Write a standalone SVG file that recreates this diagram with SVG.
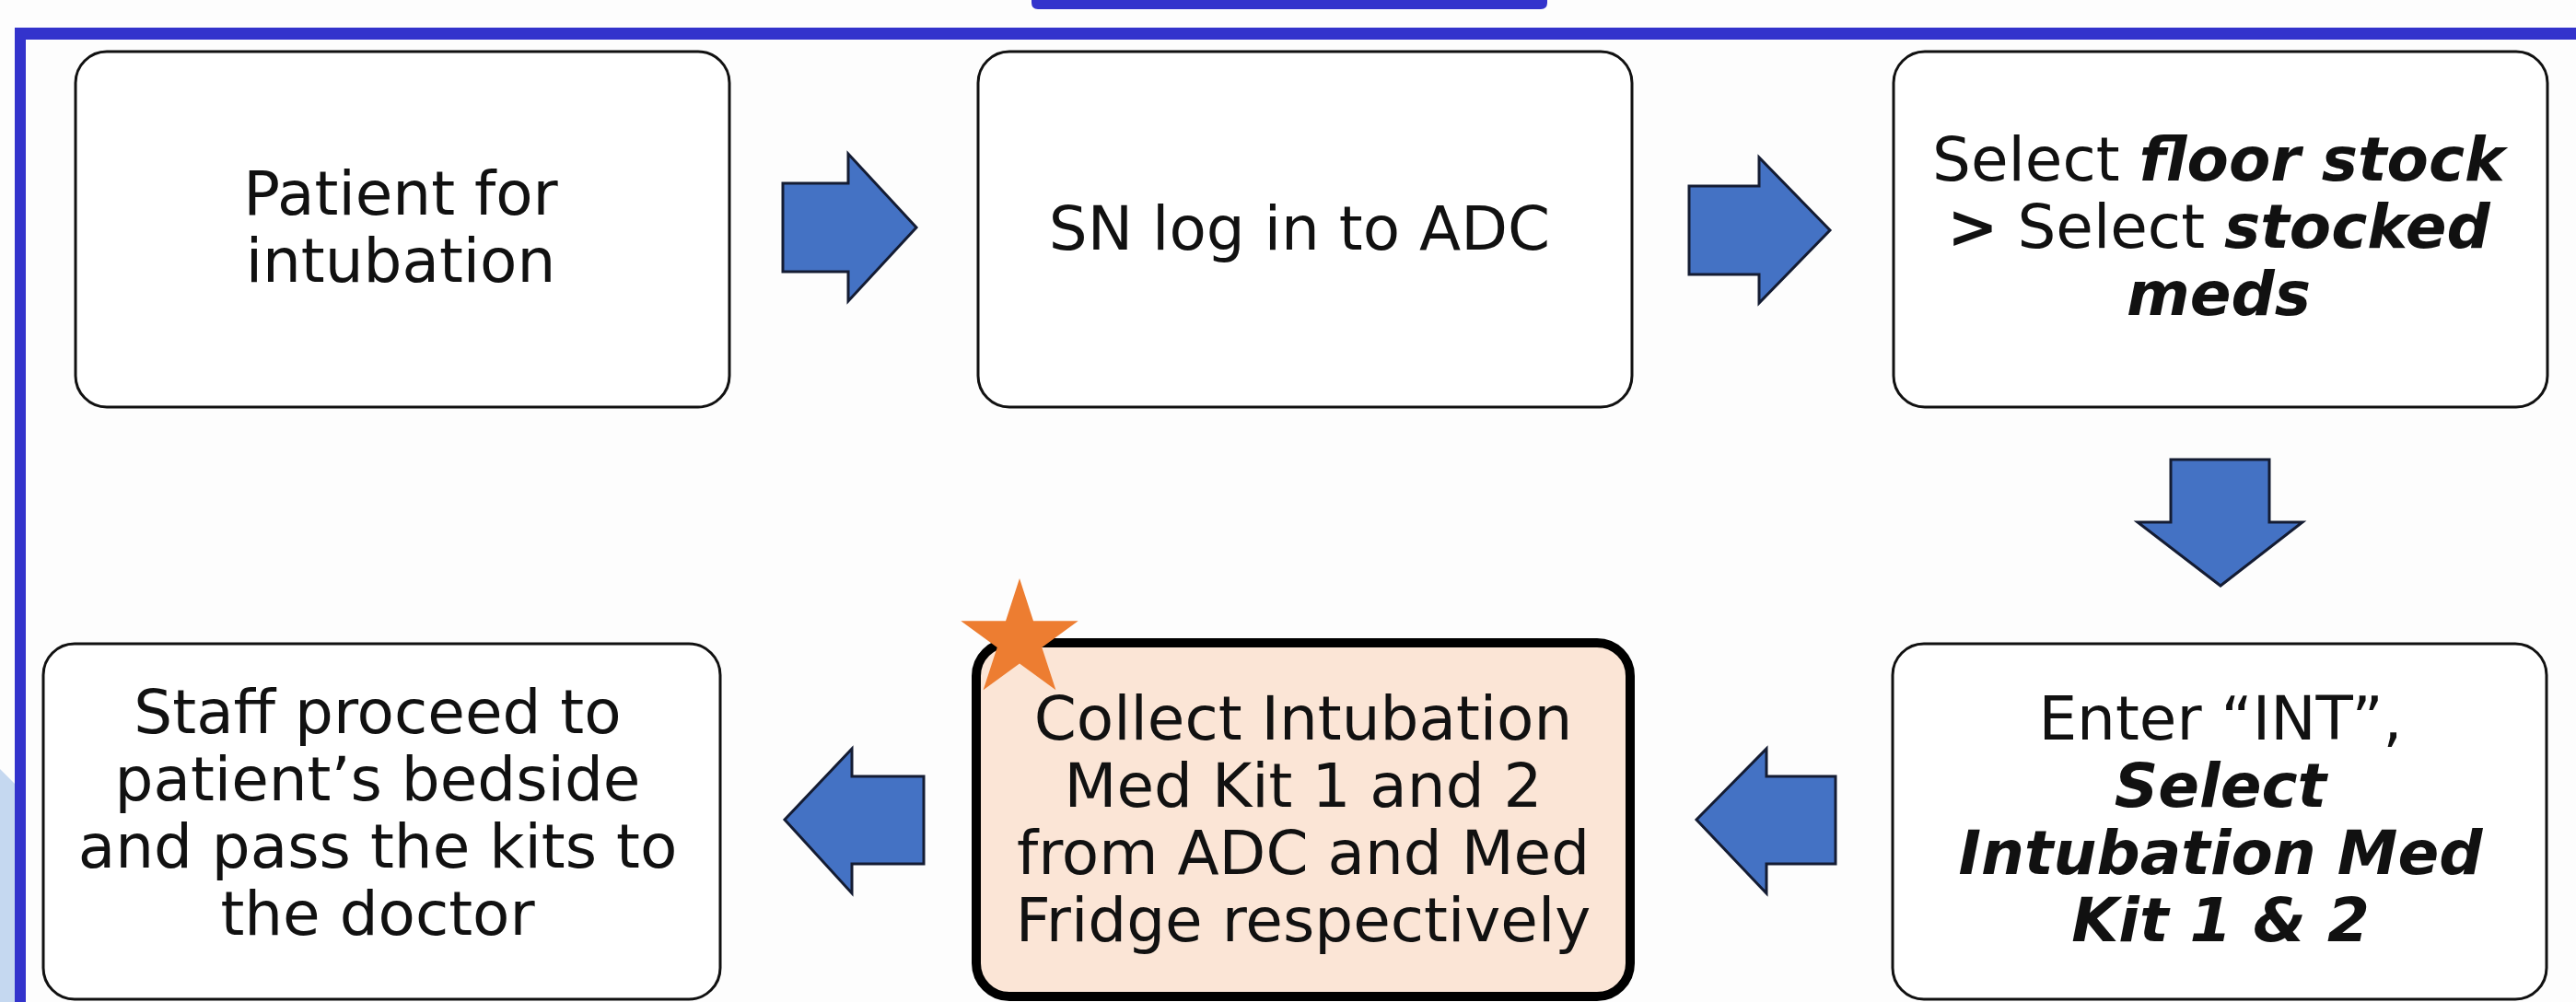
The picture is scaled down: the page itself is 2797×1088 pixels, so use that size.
<svg xmlns="http://www.w3.org/2000/svg" width="2797" height="1088" viewBox="0 0 2797 1088">
  <style>
    .box { fill: #ffffff; stroke: #111111; stroke-width: 3; }
    .hl { fill: #fbe5d6; stroke: #000000; stroke-width: 10; }
    .t { font-family: "DejaVu Sans", Verdana, sans-serif; font-size: 66px; fill: #111111; text-anchor: middle; }
    .bi { font-weight: bold; font-style: italic; }
    .b { font-weight: bold; }
    .arrow { fill: #4472c4; stroke: #141c33; stroke-width: 3; stroke-linejoin: miter; }
    .frame { fill: #3333cc; }
  </style>
  <rect x="0" y="0" width="2797" height="1088" fill="#fdfdfd"/>
  <g id="frame">
    <path class="frame" d="M1120,0 H1680 V3 Q1680,10 1673,10 H1127 Q1120,10 1120,3 Z"/>
    <rect class="frame" x="16" y="30" width="2781" height="13"/>
    <rect class="frame" x="16" y="30" width="12" height="1058"/>
    <polygon points="0,835 16,851 16,1088 0,1088" fill="#c5d8f0"/>
  </g>
  <g id="connectors">
    <polygon class="arrow" points="850,199 921,199 921,167 995,247 921,327 921,295 850,295"/>
    <polygon class="arrow" points="1834,202 1910,202 1910,171 1987,250 1910,329 1910,298 1834,298"/>
    <polygon class="arrow" points="2357,499 2464,499 2464,567 2500,567 2411,636 2321,567 2357,567"/>
    <polygon class="arrow" points="1003,843 925,843 925,813 852,890 925,970 925,938 1003,938"/>
    <polygon class="arrow" points="1993,843 1918,843 1918,813 1842,890 1918,970 1918,938 1993,938"/>
  </g>
  <g id="n1">
    <rect class="box" x="82" y="56" width="710" height="386" rx="34"/>
    <text class="t" x="435" y="233">Patient for</text>
    <text class="t" x="435" y="306">intubation</text>
  </g>
  <g id="n2">
    <rect class="box" x="1062" y="56" width="710" height="386" rx="34"/>
    <text class="t" x="1411" y="271">SN log in to ADC</text>
  </g>
  <g id="n3">
    <rect class="box" x="2056" y="56" width="710" height="386" rx="34"/>
    <text class="t" x="2409" y="196">Select <tspan class="bi">floor stock</tspan></text>
    <text class="t" x="2409" y="269"><tspan class="b">&gt;</tspan> Select <tspan class="bi">stocked</tspan></text>
    <text class="t bi" x="2409" y="342">meds</text>
  </g>
  <g id="n6">
    <rect class="box" x="2055" y="699" width="710" height="386" rx="34"/>
    <text class="t" x="2411" y="803">Enter “INT”,</text>
    <text class="t bi" x="2411" y="876">Select</text>
    <text class="t bi" x="2411" y="949">Intubation Med</text>
    <text class="t bi" x="2411" y="1022">Kit 1 &amp; 2</text>
  </g>
  <g id="n5">
    <rect class="hl" x="1060" y="698" width="710" height="384" rx="36"/>
    <text class="t" x="1415" y="803">Collect Intubation</text>
    <text class="t" x="1415" y="876">Med Kit 1 and 2</text>
    <text class="t" x="1415" y="949">from ADC and Med</text>
    <text class="t" x="1415" y="1022">Fridge respectively</text>
    <polygon fill="#ed7d31" points="1107,628 1122,674.3 1170.7,674.3 1131.3,702.9 1146.4,749.2 1107,720.6 1067.6,749.2 1082.7,702.9 1043.3,674.3 1092,674.3"/>
  </g>
  <g id="n4">
    <rect class="box" x="47" y="699" width="735" height="386" rx="34"/>
    <text class="t" x="410" y="796">Staff proceed to</text>
    <text class="t" x="410" y="869">patient’s bedside</text>
    <text class="t" x="410" y="942">and pass the kits to</text>
    <text class="t" x="410" y="1015">the doctor</text>
  </g>
</svg>
